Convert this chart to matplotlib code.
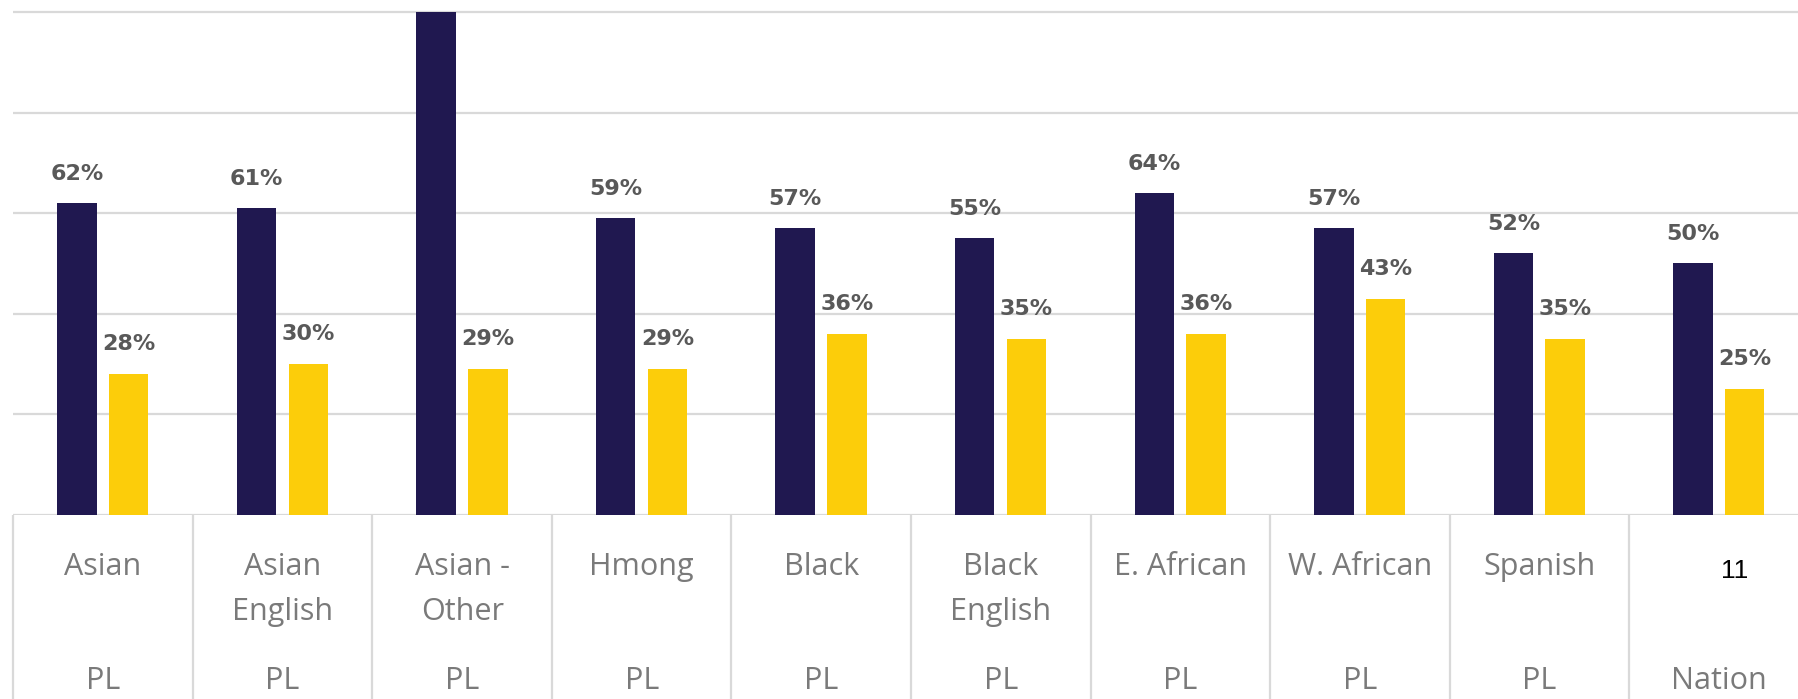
import matplotlib
matplotlib.use("Agg")
import matplotlib.pyplot as plt
import numpy as np

# Share of students by language group
top_labels = ["Asian", "Asian\nEnglish", "Asian -\nOther", "Hmong", "Black",
              "Black\nEnglish", "E. African", "W. African", "Spanish", ""]
sub_labels = ["PL", "PL", "PL", "PL", "PL", "PL", "PL", "PL", "PL", "Nation"]
navy_values = [62, 61, 100, 59, 57, 55, 64, 57, 52, 50]
navy_labels = ["62%", "61%", None, "59%", "57%", "55%", "64%", "57%", "52%", "50%"]
gold_values = [28, 30, 29, 29, 36, 35, 36, 43, 35, 25]
gold_labels = ["28%", "30%", "29%", "29%", "36%", "35%", "36%", "43%", "35%", "25%"]
page_number = "11"

NAVY = "#201850"
GOLD = "#FCCD0A"
GRID = "#D9D9D9"
VALUE_TXT = "#595959"
CAT_TXT = "#7A7A7A"

W, H = 1798, 699
fig = plt.figure(figsize=(W / 100, H / 100), dpi=100)

# axes geometry in pixels
left_px, right_px = 13.3, 1808.7
bottom_px, top_px = 514.5, 2.3
ax = fig.add_axes([left_px / W, (H - bottom_px) / H,
                   (right_px - left_px) / W, (bottom_px - top_px) / H])
ax.set_xlim(-0.5, 9.5)
ax.set_ylim(0, 102)

x = np.arange(len(top_labels))
bw = 0.22
ax.bar(x - 0.145, navy_values, width=bw, color=NAVY, zorder=3)
ax.bar(x + 0.143, gold_values, width=bw, color=GOLD, zorder=3)

# gridlines
ax.set_yticks([0, 20, 40, 60, 80, 100])
ax.yaxis.grid(True, color=GRID, linewidth=1.6, zorder=0)
ax.set_axisbelow(True)
ax.tick_params(left=False, bottom=False, labelleft=False, labelbottom=False)
for s in ax.spines.values():
    s.set_visible(False)

# value labels
for xi, v, lab in zip(x, navy_values, navy_labels):
    if lab:
        ax.annotate(lab, (xi - 0.145, v), xytext=(0, 17), textcoords="offset points",
                    ha="center", va="baseline", fontsize=16, fontweight="bold",
                    color=VALUE_TXT, family="DejaVu Sans", zorder=4)
for xi, v, lab in zip(x, gold_values, gold_labels):
    ax.annotate(lab, (xi + 0.143, v), xytext=(0, 17), textcoords="offset points",
                ha="center", va="baseline", fontsize=16, fontweight="bold",
                color=VALUE_TXT, family="DejaVu Sans", zorder=4)

# category table below the baseline
px_per_unit = (bottom_px - top_px) / 102.0
def y_at(px):
    return (bottom_px - px) / px_per_unit

bounds = np.arange(-0.5, 9.5, 1.0)
ax.vlines(bounds, y_at(H + 5), 0, colors=GRID, linewidth=1.6, clip_on=False, zorder=1)

line_baselines = [575, 620]
for xi, lab in zip(x, top_labels):
    for k, line in enumerate(lab.split("\n")):
        if line:
            ax.text(xi, y_at(line_baselines[k]), line, ha="center", va="baseline",
                    fontsize=22, color=CAT_TXT, family="Open Sans", clip_on=False)
for xi, lab in zip(x, sub_labels):
    ax.text(xi, y_at(689), lab, ha="center", va="baseline",
            fontsize=22, color=CAT_TXT, family="Open Sans", clip_on=False)

fig.text(1735 / W, (H - 570.5) / H, page_number, ha="center", va="center",
         fontsize=19, color="black", family="Liberation Sans")

fig.savefig("out.png", dpi=100)
